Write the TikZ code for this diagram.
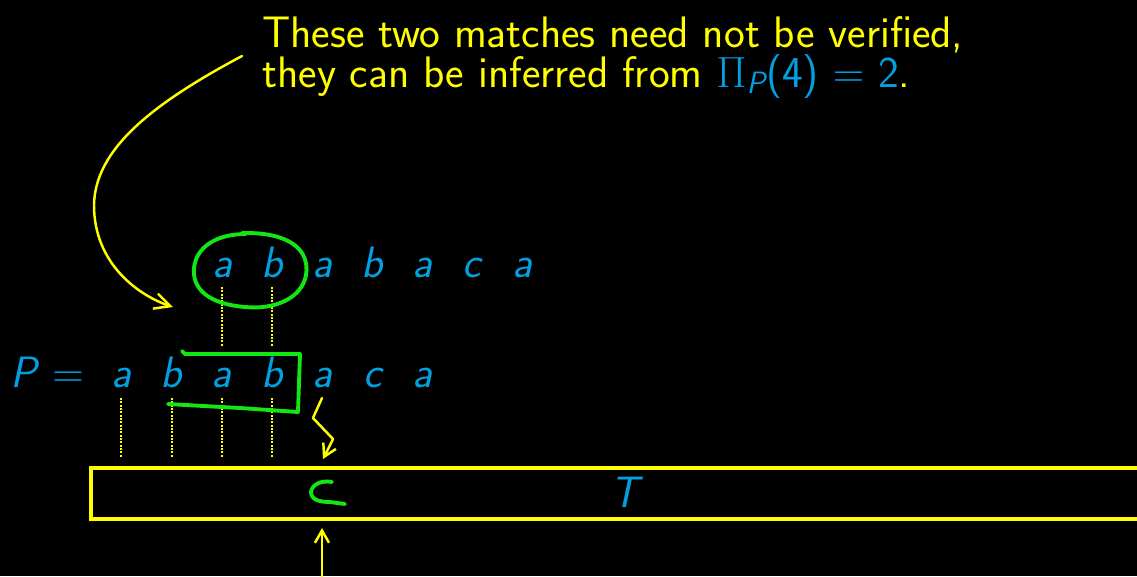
\documentclass[tikz,border=0pt]{standalone}
\usepackage{amsmath}
\usetikzlibrary{arrows.meta}
\definecolor{myyellow}{RGB}{255,255,0}
\definecolor{mygreen}{RGB}{20,230,20}
\definecolor{myblue}{RGB}{0,160,225}
\begin{document}
\begin{tikzpicture}[x=0.02cm,y=-0.02cm,
  lettr/.style={text=myblue,font=\fontsize{25}{30}\selectfont\sffamily\itshape,anchor=base,inner sep=0pt},
  note/.style={text=myyellow,font=\fontsize{25.1}{30}\selectfont\sffamily,anchor=base west,inner sep=0pt},
  dots/.style={myyellow,line width=1.4pt,dash pattern=on 1.1pt off 0.8pt},
  pen/.style={mygreen,line width=2.2pt,line cap=round,line join=round},
  ink/.style={myyellow,line width=1.4pt,line cap=round,line join=round}]
\fill[black] (0,0) rectangle (1137,576);
\useasboundingbox (0,0) rectangle (1137,576);
% note
\node[note] (l1) at (262,47) {These two matches need not be verified,};
\node[note] (l2) at (262,87) {they can be inferred from \textcolor{myblue}{$\Pi_{\textsf{\itshape P}}$(4) $=$ 2}.};
% shifted copy
\foreach \ch [count=\i] in {a,b,a,b,a,c,a}{
  \node[lettr] (s\i) at ({172+50*\i},277) {\ch};
}
% P row
\node[lettr,anchor=base] (Pn) at (24,387) {P};
\node[text=myblue,font=\fontsize{25}{30}\selectfont,anchor=base,inner sep=0pt] (eq) at (68,387) {$=$};
\foreach \ch [count=\i] in {a,b,a,b,a,c,a}{
  \node[lettr] (p\i) at ({71+50.2*\i},387) {\ch};
}
% text box
\draw[myyellow,line width=2.2pt] (91,468) rectangle (1150,519);
\node[lettr] (T) at (625,507) {T};
% dotted alignment lines
\coordinate (d1a) at (222,287); \coordinate (d1b) at (222,346);
\coordinate (d2a) at (272,287); \coordinate (d2b) at (272,346);
\draw[dots] (d1a) -- (d1b);
\draw[dots] (d2a) -- (d2b);
\foreach \xx in {121,172,222,272}{
  \draw[dots] (\xx,398) -- (\xx,457);
}
% green ellipse
\draw[pen] (242,233) .. controls (290,232) and (310,250) .. (306,275)
  .. controls (302,298) and (275,310) .. (245,307)
  .. controls (210,304) and (192,290) .. (194,268)
  .. controls (196,248) and (215,234) .. (246,234);
% green bracket
\draw[pen] (182,351) -- (185,354) -- (300,354) -- (298,412) -- (240,408) -- (168,404);
% green c
\draw[pen] (332,482) .. controls (322,480) and (312,484) .. (311,492)
  .. controls (311,500) and (320,502) .. (330,502) -- (345,504);
% zigzag arrow
\coordinate (z0) at (322,398);
\coordinate (z3) at (323,459);
\draw[ink,-{Straight Barb[length=7pt,width=8pt]}] (z0) -- (313,418) -- (333,439) -- (z3);
% bottom arrow
\coordinate (b0) at (322,580);
\coordinate (b1) at (322,528);
\draw[ink,-{Straight Barb[length=7pt,width=8pt]}] (b0) -- (b1);
% curved arrow
\coordinate (c0) at (242,56);
\coordinate (c1) at (173,307);
\draw[ink,-{Straight Barb[length=9pt,width=9pt]}] (c0) .. controls (150,105) and (95,150) .. (94,205)
  .. controls (94,265) and (140,296) .. (c1);
\end{tikzpicture}
\end{document}
